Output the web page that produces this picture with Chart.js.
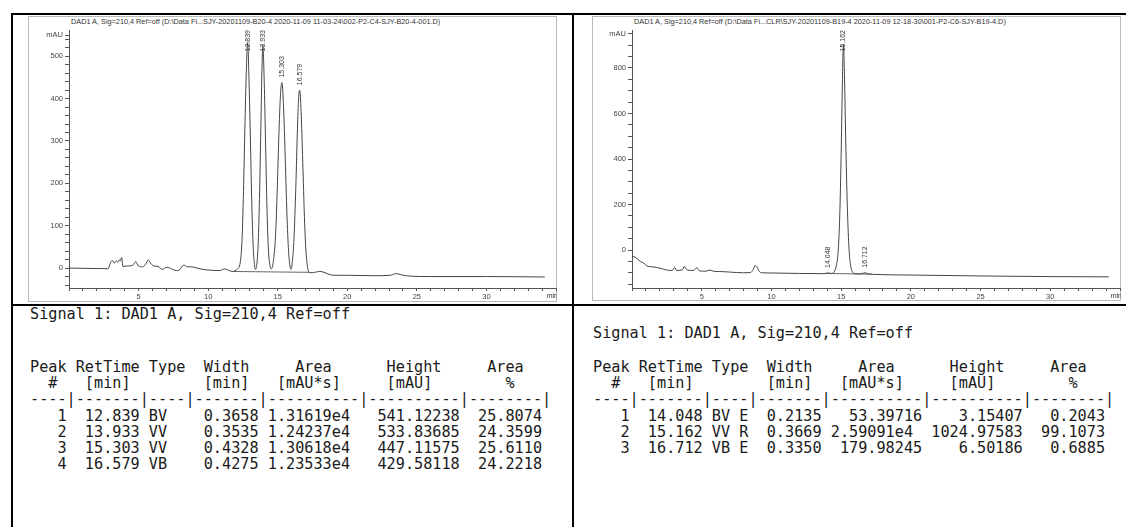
<!DOCTYPE html>
<html>
<head>
<meta charset="utf-8">
<script src="https://cdn.jsdelivr.net/npm/chart.js@4.4.0/dist/chart.umd.min.js"></script>
<style>
  body { margin: 0; background: #fff; width: 1126px; height: 527px; position: relative; overflow: hidden; }
  .rule { position: absolute; background: #000; }
  .frame { position: absolute; border: 1px solid #b9b9b9; box-sizing: border-box; }
  canvas { position: absolute; }
  .title { position: absolute; font: 7.3px "Liberation Sans", Arial, sans-serif; color: #333; white-space: nowrap; }
  pre { position: absolute; margin: 0; font-family: "DejaVu Sans Mono", monospace; font-size: 15.2px; line-height: 16.2px; color: #1a1a1a; }
</style>
</head>
<body>
<div class="rule" style="left:11px;top:13px;width:1115px;height:2px"></div>
<div class="rule" style="left:11px;top:13px;width:2px;height:514px"></div>
<div class="rule" style="left:572px;top:13px;width:2px;height:514px"></div>
<div class="rule" style="left:11px;top:304px;width:1115px;height:2px"></div>

<div class="frame" style="left:28px;top:16px;width:529px;height:286px"></div>
<div class="frame" style="left:592px;top:16px;width:529px;height:285px"></div>
<div class="title" style="left:71px;top:17px">DAD1 A, Sig=210,4 Ref=off (D:\Data Fi...SJY-20201109-B20-4 2020-11-09 11-03-24\002-P2-C4-SJY-B20-4-001.D)</div>
<div class="title" style="left:634px;top:17px">DAD1 A, Sig=210,4 Ref=off (D:\Data Fi...CLR\SJY-20201109-B19-4 2020-11-09 12-18-30\001-P2-C6-SJY-B19-4.D)</div>
<canvas id="leftChart" width="529" height="284" style="left:28px;top:17px"></canvas>
<canvas id="rightChart" width="529" height="284" style="left:592px;top:17px"></canvas>

<pre style="left:30px;top:306px">Signal 1: DAD1 A, Sig=210,4 Ref=off</pre>
<pre style="left:30px;top:359px">Peak RetTime Type  Width     Area      Height     Area
  #   [min]        [min]   [mAU*s]     [mAU]        %
----|-------|----|-------|----------|----------|--------|
   1  12.839 BV    0.3658 1.31619e4   541.12238  25.8074
   2  13.933 VV    0.3535 1.24237e4   533.83685  24.3599
   3  15.303 VV    0.4328 1.30618e4   447.11575  25.6110
   4  16.579 VB    0.4275 1.23533e4   429.58118  24.2218</pre>

<pre style="left:593px;top:325px">Signal 1: DAD1 A, Sig=210,4 Ref=off</pre>
<pre style="left:593px;top:359px">Peak RetTime Type  Width     Area      Height     Area
  #   [min]        [min]   [mAU*s]     [mAU]        %
----|-------|----|-------|----------|----------|--------|
   1  14.048 BV E  0.2135   53.39716    3.15407   0.2043
   2  15.162 VV R  0.3669 2.59091e4  1024.97583  99.1073
   3  16.712 VB E  0.3350  179.98245    6.50186   0.6885</pre>

<script>
// Chromatogram 1 (B20-4): retention time [min] and signal [mAU]
const leftTime = [0, 1, 2, 2.8, 3.0, 3.1, 3.25, 3.4, 3.5, 3.6, 3.7, 3.78, 3.88, 4.2, 4.6, 4.8, 5.0, 5.3, 5.5, 5.7, 5.9, 6.1, 6.4, 6.7, 7.05, 7.3, 7.6, 7.85, 8.25, 8.5, 8.8, 9.2, 9.6, 10.2, 10.8, 11.2, 11.45, 11.75,
  12.1, 12.3, 12.44, 12.54, 12.64, 12.74, 12.839, 12.94, 13.04, 13.14, 13.24, 13.34, 13.4,
  13.5, 13.6, 13.7, 13.8, 13.86, 13.933, 14.03, 14.13, 14.23, 14.33, 14.45, 14.55,
  14.7, 14.85, 14.97, 15.08, 15.2, 15.303, 15.42, 15.54, 15.66, 15.78, 15.88, 15.95,
  16.05, 16.17, 16.3, 16.42, 16.5, 16.579, 16.68, 16.8, 16.92, 17.04, 17.15, 17.25,
  17.5, 17.8, 18.1, 18.4, 18.8, 19.3, 20, 22, 23.1, 23.5, 23.9, 24.5, 26, 30, 34.2];
const leftSignal = [0, -0.5, -1, -1.5, 14, 18, 12, 17, 14, 19, 17, 25, 4, 5, 7, 15, 5, 3, 9, 19, 10, 5, 4, -3, 2, -1, -5, -6, 7, 3, 3, 0, -3, -5, -6, -2, -5, -8,
  -2, 12, 70, 180, 330, 460, 533, 440, 300, 150, 50, 5, -3,
  10, 60, 180, 350, 460, 526, 440, 290, 140, 45, 5, -2,
  20, 80, 190, 310, 410, 438, 380, 260, 130, 40, 5, -3,
  15, 70, 190, 330, 400, 420, 370, 250, 120, 35, 2, -10,
  -11, -9, -8, -11, -16, -17, -17, -18, -17, -13, -16, -19, -20, -20, -21];
const leftBaseTime = [11.75, 17.25];
const leftBaseSignal = [-8, -10];
const leftPeakTimes = [12.839, 13.933, 15.303, 16.579];
const leftPeakApex = [533, 526, 438, 420];
const leftPeakLabels = ['12.839', '13.933', '15.303', '16.579'];

// Chromatogram 2 (B19-4)
const rightTime = [0, 0.3, 0.6, 0.9, 1.05, 1.5, 2.0, 2.5, 2.9, 3.05, 3.2, 3.6, 3.75, 3.95, 4.4, 4.65, 4.85, 5.3, 5.6, 5.9, 6.5, 7.0, 8.0, 8.5, 8.7, 8.85, 8.95, 9.1, 9.3, 10, 12, 13.8, 14.048, 14.3,
  14.5, 14.65, 14.78, 14.9, 15.0, 15.08, 15.162, 15.24, 15.33, 15.44, 15.55, 15.66, 15.8, 16.0,
  16.4, 16.712, 16.95, 17.3, 20, 25, 30, 34.2];
const rightSignal = [-25, -35, -50, -60, -70, -74, -80, -88, -90, -76, -90, -88, -72, -88, -90, -78, -92, -93, -88, -94, -95, -97, -100, -99, -85, -68, -72, -92, -100, -101, -103, -104, -101, -103,
  -96, -70, -10, 150, 420, 700, 905, 760, 480, 200, 20, -60, -95, -104,
  -105, -100, -105, -107, -110, -114, -117, -118];
const rightBaseTime = [13.8, 17.2];
const rightBaseSignal = [-103, -106];
const rightPeakTimes = [14.048, 15.162, 16.712];
const rightPeakApex = [-101, 905, -100];
const rightPeakLabels = ['14.048', '15.162', '16.712'];

// axes
const xTickLabels = [5, 10, 15, 20, 25, 30];
const leftYLabels = [0, 100, 200, 300, 400, 500];
const rightYLabels = [0, 200, 400, 600, 800];

const tickFont = { family: '"Liberation Sans", Arial, sans-serif', size: 7.5 };

const peakLabelPlugin = {
  id: 'peakLabels',
  afterDatasetsDraw(chart, args, opts) {
    const { ctx, chartArea, scales: { x, y } } = chart;
    ctx.save();
    ctx.font = '7px "Liberation Sans", Arial, sans-serif';
    ctx.fillStyle = '#333';
    opts.times.forEach((t, i) => {
      const px = x.getPixelForValue(t);
      const text = opts.labels[i];
      const w = ctx.measureText(text).width;
      let bottom = y.getPixelForValue(opts.apex[i]) - 5;
      if (bottom - w < chartArea.top) bottom = chartArea.top + w;
      ctx.save();
      ctx.translate(px, bottom);
      ctx.rotate(-Math.PI / 2);
      ctx.textAlign = 'left';
      ctx.textBaseline = 'middle';
      ctx.fillText(text, 0, 0);
      ctx.restore();
    });
    // unit at the end of the time axis
    ctx.textAlign = 'right';
    ctx.textBaseline = 'top';
    ctx.fillText('min', chartArea.right + 2, chartArea.bottom + 5);
    ctx.restore();
  }
};

function makeChart(id, time, signal, baseTime, baseSignal, peaks, yMin, yMax, yStep, yLabels, mauAt, yWidth) {
  const yTicks = [];
  for (let v = Math.ceil(yMin / yStep) * yStep; v < mauAt; v += yStep) yTicks.push(v);
  yTicks.push(mauAt);
  const xTicks = [];
  for (let v = 0; v <= 35; v++) xTicks.push(v);

  new Chart(document.getElementById(id), {
    type: 'scatter',
    data: {
      datasets: [{
        data: time.map((t, i) => ({ x: t, y: signal[i] })),
        showLine: true,
        pointRadius: 0,
        borderColor: '#444',
        borderWidth: 1,
        cubicInterpolationMode: 'monotone'
      }, {
        data: baseTime.map((t, i) => ({ x: t, y: baseSignal[i] })),
        showLine: true,
        pointRadius: 0,
        borderColor: '#666',
        borderWidth: 1
      }]
    },
    options: {
      responsive: false,
      animation: false,
      events: [],
      layout: { autoPadding: false, padding: { top: 13, right: 1, left: 0, bottom: 0 } },
      plugins: {
        legend: { display: false },
        tooltip: { enabled: false },
        peakLabels: peaks
      },
      scales: {
        x: {
          type: 'linear', min: 0, max: 35,
          afterBuildTicks: s => { s.ticks = xTicks.map(v => ({ value: v })); },
          afterFit: s => { s.height = 13; },
          ticks: {
            autoSkip: false, maxRotation: 0, padding: 1, font: tickFont, color: '#444',
            callback: v => xTickLabels.includes(v) ? String(v) : ''
          },
          grid: { drawOnChartArea: false, drawTicks: true, tickLength: 3, color: '#555' },
          border: { color: '#555' }
        },
        y: {
          type: 'linear', min: yMin, max: yMax,
          afterBuildTicks: s => { s.ticks = yTicks.map(v => ({ value: v })); },
          afterFit: s => { s.width = yWidth; },
          ticks: {
            autoSkip: false, padding: 2, font: tickFont, color: '#444',
            callback: v => yLabels.includes(v) ? String(v) : (v === mauAt ? 'mAU' : '')
          },
          grid: { drawOnChartArea: false, drawTicks: true, tickLength: 4, color: '#555' },
          border: { color: '#555' }
        }
      }
    },
    plugins: [peakLabelPlugin]
  });
}

makeChart('leftChart', leftTime, leftSignal, leftBaseTime, leftBaseSignal,
  { times: leftPeakTimes, apex: leftPeakApex, labels: leftPeakLabels },
  -47, 562, 20, leftYLabels, 550, 41);
makeChart('rightChart', rightTime, rightSignal, rightBaseTime, rightBaseSignal,
  { times: rightPeakTimes, apex: rightPeakApex, labels: rightPeakLabels },
  -167, 967, 50, rightYLabels, 950, 40);
</script>
</body>
</html>
